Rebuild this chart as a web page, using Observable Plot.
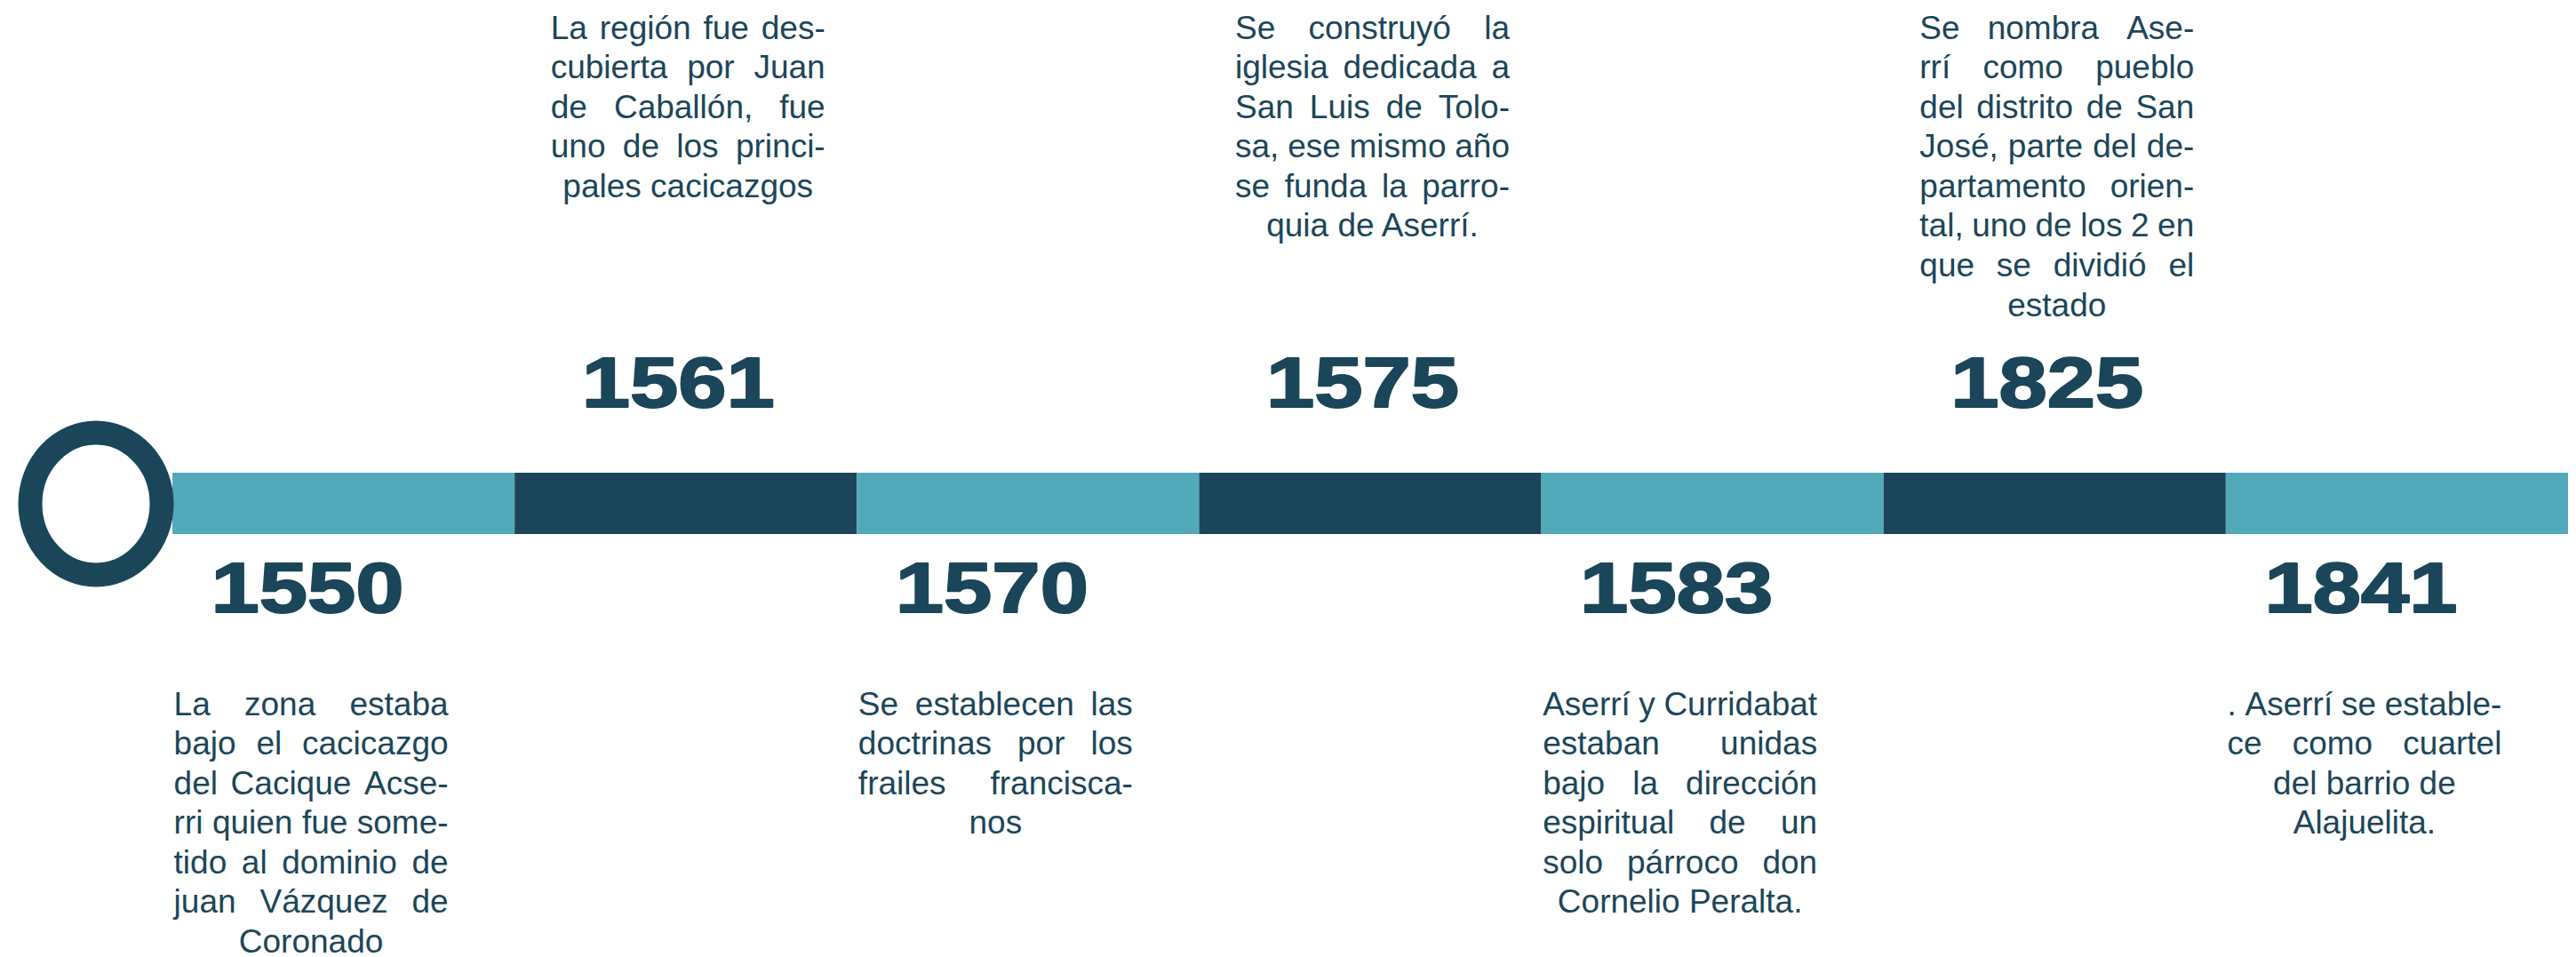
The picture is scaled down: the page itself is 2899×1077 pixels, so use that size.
<!DOCTYPE html>
<html>
<head>
<meta charset="utf-8">
<script src="https://cdn.jsdelivr.net/npm/d3@7"></script>
<script src="https://cdn.jsdelivr.net/npm/@observablehq/plot@0.6"></script>
<style>
  html, body { margin: 0; padding: 0; background: #ffffff; }
  svg { display: block; }
</style>
</head>
<body>
<div id="chart"></div>
<script>
// ---- data ----
const years = [1550, 1561, 1570, 1575, 1583, 1825, 1841];
const sides = ["bottom", "top", "bottom", "top", "bottom", "top", "bottom"];
// each description: list of paragraphs, each paragraph a list of lines
const descriptions = [
  [["La zona estaba", "bajo el cacicazgo", "del Cacique Acse-", "rri quien fue some-", "tido al dominio de", "juan Vázquez de", "Coronado"]],
  [["La región fue des-", "cubierta por Juan", "de Caballón, fue", "uno de los princi-", "pales cacicazgos"]],
  [["Se establecen las", "doctrinas por los", "frailes francisca-", "nos"]],
  [["Se construyó la", "iglesia dedicada a", "San Luis de Tolo-", "sa, ese mismo año", "se funda la parro-", "quia de Aserrí."]],
  [["Aserrí y Curridabat", "estaban unidas", "bajo la dirección", "espiritual de un", "solo párroco don", "Cornelio Peralta."]],
  [["Se nombra Ase-", "rrí como pueblo", "del distrito de San", "José, parte del de-", "partamento orien-", "tal, uno de los 2 en", "que se dividió el", "estado"]],
  [[". Aserrí se estable-", "ce como cuartel", "del barrio de"], ["Alajuelita."]]
];

// ---- styling ----
const DARK = "#1b4659";
const LIGHT = "#52a9ba";
const FS = 37;          // body font size
const LH = 44.6;        // body line spacing
const BLOCK_W = 309;    // justified block width

const events = years.map((year, i) => ({
  year,
  seg: i,
  side: sides[i],
  lines: descriptions[i].flat(),
  justify: descriptions[i].flatMap(p => p.map((_, j) => j < p.length - 1))
}));
const topEvents = events.filter(d => d.side === "top");
const bottomEvents = events.filter(d => d.side === "bottom");

const bandCenter = (532 + 601) / 2;

const chart = Plot.plot({
  width: 2899,
  height: 1077,
  margin: 0,
  x: {domain: [0, years.length], range: [194, 2890], axis: null},
  y: {type: "band", domain: ["timeline"], range: [532, 601], padding: 0, axis: null},
  color: {type: "ordinal", domain: [0, 1], range: [LIGHT, DARK]},
  style: {fontFamily: "'Liberation Sans', Arial, Helvetica, sans-serif", background: "#ffffff", overflow: "visible"},
  marks: [
    Plot.barX(events, {
      x1: d => d.seg, x2: d => d.seg + 1, y: () => "timeline",
      fill: d => d.seg % 2, inset: 0
    }),
    Plot.dot([0], {
      x: 0, y: () => "timeline", r: 74, dx: -86.5,
      stroke: DARK, strokeWidth: 27, fill: "white"
    }),
    // years
    Plot.text(topEvents, {
      x: d => d.seg + 0.5, y: () => "timeline", text: d => String(d.year),
      lineAnchor: "bottom", fontSize: 80, fontWeight: "bold",
      fill: DARK, stroke: DARK, strokeWidth: 2,
      dx: -9, dy: 457 - bandCenter
    }),
    Plot.text(bottomEvents, {
      x: d => d.seg + 0.5, y: () => "timeline", text: d => String(d.year),
      lineAnchor: "bottom", fontSize: 80, fontWeight: "bold",
      fill: DARK, stroke: DARK, strokeWidth: 2,
      dx: -41, dy: 688.5 - bandCenter
    }),
    // descriptions
    Plot.text(topEvents, {
      x: d => d.seg + 0.5, y: () => "timeline", text: d => d.lines.join("\n"),
      lineAnchor: "top", lineHeight: LH / FS, fontSize: FS, fill: DARK,
      dx: 2, dy: 43 - 0.71 * LH - bandCenter
    }),
    Plot.text(bottomEvents, {
      x: d => d.seg + 0.5, y: () => "timeline", text: d => d.lines.join("\n"),
      lineAnchor: "top", lineHeight: LH / FS, fontSize: FS, fill: DARK,
      dx: -37, dy: 804 - 0.71 * LH - bandCenter
    })
  ]
});

document.getElementById("chart").append(chart);

// mark groups in the order the marks were declared
const groups = Array.from(chart.querySelectorAll(":scope > g"));
const [gBars, gDot, gYearTop, gYearBottom, gDescTop, gDescBottom] = groups;

// widen the heavy year numerals
[gYearTop, gYearBottom].forEach(g => {
  if (!g) return;
  g.querySelectorAll("text").forEach(t => {
    t.setAttribute("transform", (t.getAttribute("transform") || "") + " scale(1.22,1)");
  });
});

// slightly elliptical ring
if (gDot) gDot.querySelectorAll("circle, path").forEach(c => {
  c.setAttribute("vector-effect", "non-scaling-stroke");
  if (c.tagName.toLowerCase() === "circle") {
    const cx = +c.getAttribute("cx") || 0, cy = +c.getAttribute("cy") || 0;
    c.setAttribute("transform", `translate(${cx},${cy}) scale(1,1.08) translate(${-cx},${-cy})`);
  } else {
    c.setAttribute("transform", (c.getAttribute("transform") || "") + " scale(1,1.08)");
  }
});

// justify lines: words spread across the block, last line of a paragraph centered
function justify(g, list) {
  if (!g) return;
  g.querySelectorAll("text").forEach((t, k) => {
    const ev = list[k];
    if (!ev) return;
    Array.from(t.querySelectorAll(":scope > tspan")).forEach((s, j) => {
      if (!ev.justify[j]) return;
      const line = ev.lines[j];
      const words = line.split(" ");
      if (words.length < 2) return;
      // measure each word
      const widths = words.map(w => { s.textContent = w; return s.getComputedTextLength(); });
      const total = widths.reduce((a, b) => a + b, 0);
      const gap = (BLOCK_W - total) / (words.length - 1);
      let pos = -BLOCK_W / 2;
      s.textContent = words[0];
      s.setAttribute("x", (pos + widths[0] / 2).toFixed(2));
      pos += widths[0] + gap;
      let after = s;
      for (let w = 1; w < words.length; ++w) {
        const ws = document.createElementNS("http://www.w3.org/2000/svg", "tspan");
        ws.setAttribute("x", (pos + widths[w] / 2).toFixed(2));
        ws.textContent = words[w];
        after.after(ws);
        after = ws;
        pos += widths[w] + gap;
      }
    });
  });
}
justify(gDescTop, topEvents);
justify(gDescBottom, bottomEvents);
</script>
</body>
</html>
